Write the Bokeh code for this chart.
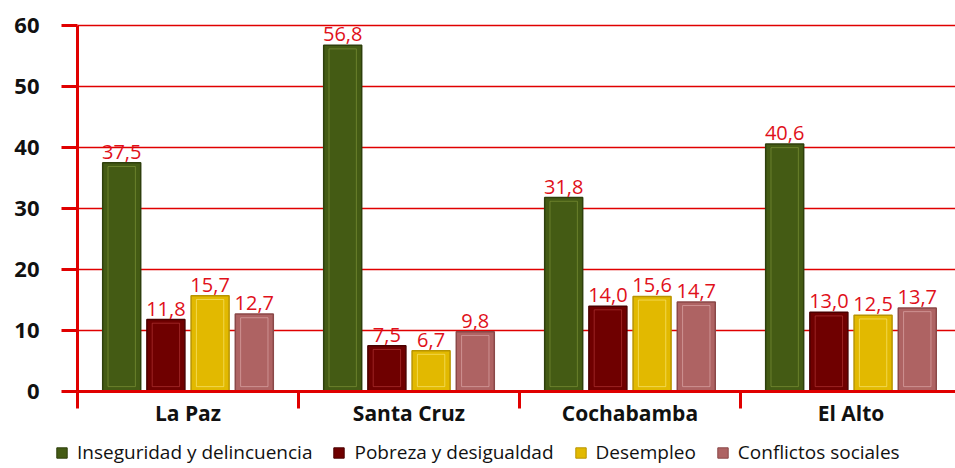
from bokeh.plotting import figure
from bokeh.layouts import column
from bokeh.models import ColumnDataSource, Range1d, FixedTicker, Legend, LegendItem
from bokeh.core.properties import value
from bokeh.embed import file_html
from bokeh.resources import INLINE

cities = ["La Paz", "Santa Cruz", "Cochabamba", "El Alto"]
series = ["Inseguridad y delincuencia", "Pobreza y desigualdad", "Desempleo", "Conflictos sociales"]
inseguridad = [37.5, 56.8, 31.8, 40.6]
pobreza = [11.8, 7.5, 14.0, 13.0]
desempleo = [15.7, 6.7, 15.6, 12.5]
conflictos = [12.7, 9.8, 14.7, 13.7]
y_ticks = [0, 10, 20, 30, 40, 50, 60]

colors = ["#445b14", "#6f0000", "#e2b900", "#ae6363"]
edge_colors = ["#2e3f0c", "#4a0000", "#b89400", "#8a4848"]
hi_colors = ["#8aa040", "#c04040", "#fff08a", "#e8b8b8"]
offsets = [-0.3, -0.1, 0.1, 0.3]
bar_w = 0.172

RED = "#e00000"
FONT = "Open Sans"

p = figure(width=955, height=440, output_backend="svg", toolbar_location=None,
           x_range=Range1d(0, 3.973), y_range=Range1d(0, 62),
           min_border_left=77, min_border_top=13, min_border_right=0, min_border_bottom=49)
p.outline_line_color = None
p.background_fill_color = "white"

p.xgrid.grid_line_color = None
p.ygrid.grid_line_color = RED
p.ygrid.grid_line_width = 1.5
p.ygrid.ticker = FixedTicker(ticks=y_ticks)

# y axis
p.yaxis.ticker = FixedTicker(ticks=y_ticks)
p.yaxis.bounds = (y_ticks[0], y_ticks[-1])
p.yaxis.axis_line_color = RED
p.yaxis.axis_line_width = 3
p.yaxis.major_tick_line_color = RED
p.yaxis.major_tick_line_width = 3
p.yaxis.major_tick_out = 16
p.yaxis.major_tick_in = 0
p.yaxis.minor_tick_line_color = None
p.yaxis.major_label_text_font = FONT
p.yaxis.major_label_text_font_style = "bold"
p.yaxis.major_label_text_font_size = "22px"
p.yaxis.major_label_text_color = "#111111"
p.yaxis.major_label_standoff = 22

# x axis: labels at category centres, boundary ticks as minor ticks
centers = [i + 0.5 for i in range(len(cities))]
bounds = [float(i) for i in range(len(cities) + 1)]
p.xaxis.ticker = FixedTicker(ticks=centers, minor_ticks=bounds)
p.xaxis.major_label_overrides = {c: name for c, name in zip(centers, cities)}
p.xaxis.axis_line_color = RED
p.xaxis.axis_line_width = 3
p.xaxis.major_tick_line_color = None
p.xaxis.major_tick_out = 0
p.xaxis.major_tick_in = 0
p.xaxis.minor_tick_line_color = RED
p.xaxis.minor_tick_line_width = 3
p.xaxis.minor_tick_out = 17
p.xaxis.minor_tick_in = 0
p.xaxis.major_label_text_font = FONT
p.xaxis.major_label_text_font_style = "bold"
p.xaxis.major_label_text_font_size = "21px"
p.xaxis.major_label_text_color = "#111111"
p.xaxis.major_label_standoff = -10

# legend strip below the chart (shares the bar sources; its y-range keeps bars out of view)
lg = figure(width=955, height=28, output_backend="svg", toolbar_location=None,
            x_range=Range1d(0, 1), y_range=Range1d(1000, 1001),
            x_axis_location=None, y_axis_location=None,
            min_border_left=0, min_border_right=0, min_border_top=0, min_border_bottom=0)
lg.grid.visible = False
lg.outline_line_color = None
for fig in (p, lg):
    try:
        fig.frame_align = False
    except Exception:
        pass

all_series = [inseguridad, pobreza, desempleo, conflictos]
items = []
for k, vals in enumerate(all_series):
    xs = [i + 0.5 + offsets[k] for i in range(len(cities))]
    labels = [f"{v:.1f}".replace(".", ",") for v in vals]
    src = ColumnDataSource(dict(x=xs, top=vals, label=labels,
                                hi_top=[v - 0.6 for v in vals]))
    p.vbar(x="x", top="top", bottom=0, width=bar_w, source=src,
           fill_color=colors[k], line_color=edge_colors[k], line_width=1.5)
    p.vbar(x="x", top="hi_top", bottom=0.8, width=bar_w * 0.72, source=src,
           fill_color=None, line_color=hi_colors[k], line_width=1, line_alpha=0.55)
    p.text(x="x", y="top", text="label", source=src, text_align="center",
           text_baseline="alphabetic", y_offset=-11, text_color="#e0101a",
           text_font=value(FONT), text_font_size="20px")
    r = lg.vbar(x="x", top="top", bottom=0, width=bar_w, source=src,
                fill_color=colors[k], line_color=edge_colors[k], line_width=1)
    items.append(LegendItem(label=series[k], renderers=[r]))

legend = Legend(items=items, orientation="horizontal", location=(55, 3),
                label_text_font=FONT, label_text_font_size="19px",
                label_text_color="#111111", glyph_width=13, glyph_height=13,
                label_standoff=9, spacing=20, padding=0, margin=0,
                border_line_color=None, background_fill_alpha=0,
                label_height=20)
lg.add_layout(legend, "center")

layout = column(p, lg, spacing=0)
open("out.html", "w").write(file_html(layout, INLINE))
